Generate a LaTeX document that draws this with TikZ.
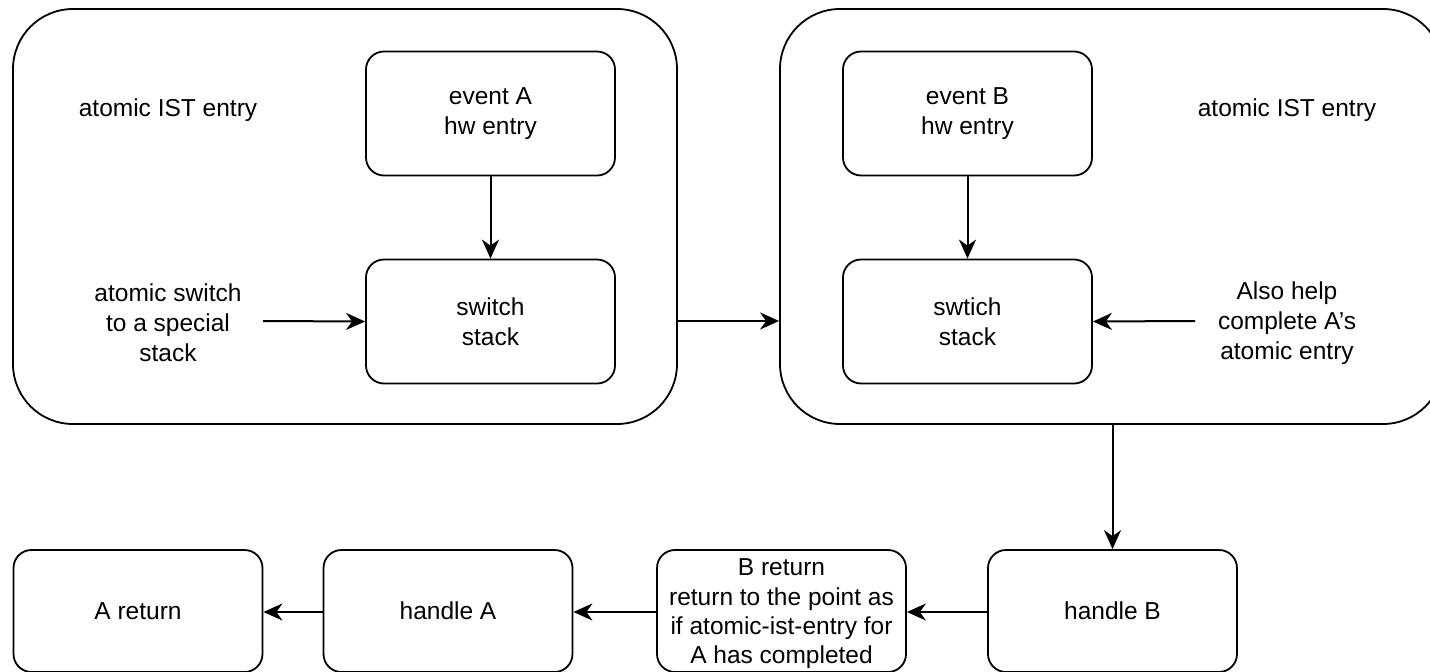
\documentclass[tikz,border=0pt]{standalone}
\usepackage{fontspec}
\setmainfont{Liberation Sans}
\usetikzlibrary{arrows.meta}
\begin{document}
\begin{tikzpicture}[x=1pt,y=-1pt,
  txt/.style={font=\fontsize{24.5}{30}\selectfont, align=center, inner sep=0pt},
  box/.style={txt, draw, line width=1.8pt, rounded corners=18pt, minimum width=249pt, minimum height=124pt},
  bigbox/.style={draw, line width=1.8pt, rounded corners=60pt, inner sep=0pt},
  arrline/.style={draw, line width=2pt, -{Stealth[length=19pt,width=17pt,inset=6pt]}}]
\useasboundingbox (0,0) rectangle (1430,672);
\clip (0,0) rectangle (1430,672);
% big containers
\node[bigbox, minimum width=664pt, minimum height=415pt] (L) at (345,216.5) {};
\node[bigbox, minimum width=663pt, minimum height=415pt] (R) at (1111.5,216.5) {};
% inner boxes
\node[box] (eA) at (490.5,113.5) {event A\\hw entry};
\node[box] (sA) at (490.5,321.5) {switch\\stack};
\node[box] (eB) at (967.5,113.5) {event B\\hw entry};
\node[box] (sB) at (967.5,321.5) {swtich\\stack};
% labels
\node[txt] (lA) at (168,110) {atomic IST entry};
\node[txt] (lB) at (1287,110) {atomic IST entry};
\node[txt] (lsw) at (168,323) {atomic switch\\to a special\\stack};
\node[txt] (lhelp) at (1287,323) {Also help\\complete A's\\atomic entry};
\coordinate (c1) at (263,321);
\coordinate (c2) at (1195,321);
\coordinate (c3) at (0,612);
% bottom row
\node[box, minimum height=122pt] (Ar) at (138,611) {A return};
\node[box, minimum height=122pt] (hA) at (448,611) {handle A};
\node[box, minimum height=122pt] (Br) at (781.5,611) {};
\node[txt, font=\fontsize{24.5}{29.3}\selectfont] (BrT) at (781.5,614) {B return\\return to the point as\\if atomic-ist-entry for\\A has completed};
\node[box, minimum height=122pt] (hB) at (1112.5,611) {handle B};
% connectors
\path[arrline] (eA) -- (sA);
\path[arrline] (eB) -- (sB);
\path[arrline] (c1) -- (sA.west);
\path[arrline] (c2) -- (sB.east);
\path[arrline] (L.east |- c1) -- (R.west |- c1);
\path[arrline] (R.south -| hB) -- (hB.north);
\path[arrline] (hB.west |- c3) -- (Br.east |- c3);
\path[arrline] (Br.west |- c3) -- (hA.east |- c3);
\path[arrline] (hA.west |- c3) -- (Ar.east |- c3);
\end{tikzpicture}
\end{document}
